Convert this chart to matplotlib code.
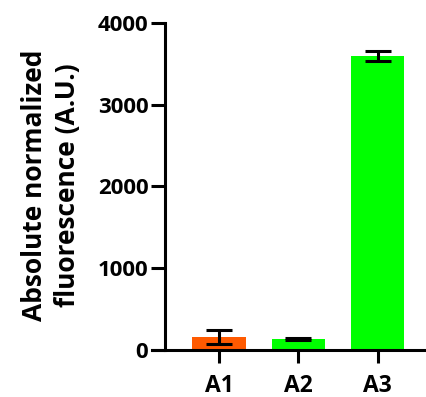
import matplotlib
matplotlib.use("Agg")
import matplotlib.pyplot as plt

categories = ["A1", "A2", "A3"]
values = [160, 135, 3600]
errors = [85, 8, 60]
colors = ["#FF5A00", "#00FF00", "#00FF00"]
yticks = [0, 1000, 2000, 3000, 4000]

plt.rcParams['font.family'] = ['Open Sans', 'DejaVu Sans']
plt.rcParams['font.weight'] = 'bold'

W, H = 427, 397
fig = plt.figure(figsize=(W/100, H/100), dpi=100)
ax = fig.add_axes([165/W, (H-350)/H, (427-165)/W, (350-23)/H])

x = list(range(len(categories)))
ax.bar(x, values, width=0.67, color=colors, zorder=2)
ax.errorbar(x, values, yerr=errors, fmt='none', ecolor='black',
            elinewidth=2.2, capsize=9.4, capthick=2.2, zorder=3)

xmin, xmax = -0.68, 2.62
ax.set_xlim(xmin, xmax)
ax.set_ylim(0, 4000)
ax.set_xticks(x)
ax.set_xticklabels(categories, fontsize=16.5, fontweight='bold')
ax.set_yticks(yticks)
ax.set_yticklabels([str(v) for v in yticks], fontsize=16, fontweight='bold')

for s in ['top', 'right']:
    ax.spines[s].set_visible(False)
for s in ['left', 'bottom']:
    ax.spines[s].set_linewidth(2.2)
ax.spines['bottom'].set_bounds(xmin - 0.17, xmax)
ax.tick_params(axis='y', width=2.2, length=10, pad=2)
ax.tick_params(axis='x', width=2.2, length=9.5, pad=8)

ax.set_ylabel("Absolute normalized\nfluorescence (A.U.)", fontsize=19,
              fontweight='bold', linespacing=1.3)
ax.yaxis.set_label_coords(-0.32, 0.505)

fig.savefig("out.png", dpi=100)
